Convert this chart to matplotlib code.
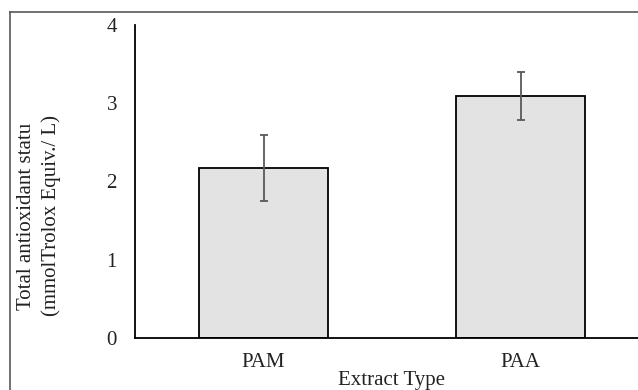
import numpy as np
import matplotlib
matplotlib.use("Agg")
import matplotlib.pyplot as plt
from matplotlib.lines import Line2D

# data
categories = ['PAM', 'PAA']
values = [2.17, 3.09]
errors = [0.42, 0.31]
yticks = [0, 1, 2, 3, 4]

plt.rcParams['font.family'] = ['Liberation Serif', 'DejaVu Serif']

W, H = 638, 390
fig = plt.figure(figsize=(W / 100, H / 100), dpi=100)
ax = fig.add_axes([135 / W, 1 - 338 / H, (649 - 135) / W, (338 - 25) / H])

x = np.arange(len(categories))
ax.bar(x, values, width=0.5, color='#e3e3e3', edgecolor='black', linewidth=1.3, zorder=2)
ax.errorbar(x, values, yerr=errors, fmt='none', ecolor='#595959',
            elinewidth=1.3, capsize=3, capthick=1.3, zorder=3)

ax.set_xlim(-0.5, 1.5)
ax.set_ylim(0, 4)
ax.set_yticks(yticks)
ax.set_xticks(x)
ax.set_xticklabels(categories)
ax.tick_params(axis='both', length=0, labelsize=15, colors='#222222')
ax.tick_params(axis='y', pad=13)
ax.tick_params(axis='x', pad=11)
for s in ['top', 'right']:
    ax.spines[s].set_visible(False)
ax.spines['left'].set_linewidth(1.3)
ax.spines['bottom'].set_linewidth(1.3)

fig.text(391 / W, 1 - 381 / H, 'Extract Type', ha='center', va='center',
         fontsize=15, color='#222222')
fig.text(39 / W, 1 - 216 / H, 'Total antioxidant statu\n(mmolTrolox Equiv./ L)',
         rotation=90, ha='center', va='center', fontsize=15, color='#222222',
         linespacing=1.4)

# outer chart-area border (cut off on the right and bottom)
fig.add_artist(Line2D([10 / W, 1], [1 - 12 / H] * 2, transform=fig.transFigure,
                      color='#595959', linewidth=1.2))
fig.add_artist(Line2D([10 / W] * 2, [0, 1 - 12 / H], transform=fig.transFigure,
                      color='#595959', linewidth=1.2))

fig.savefig('out.png', dpi=100)
